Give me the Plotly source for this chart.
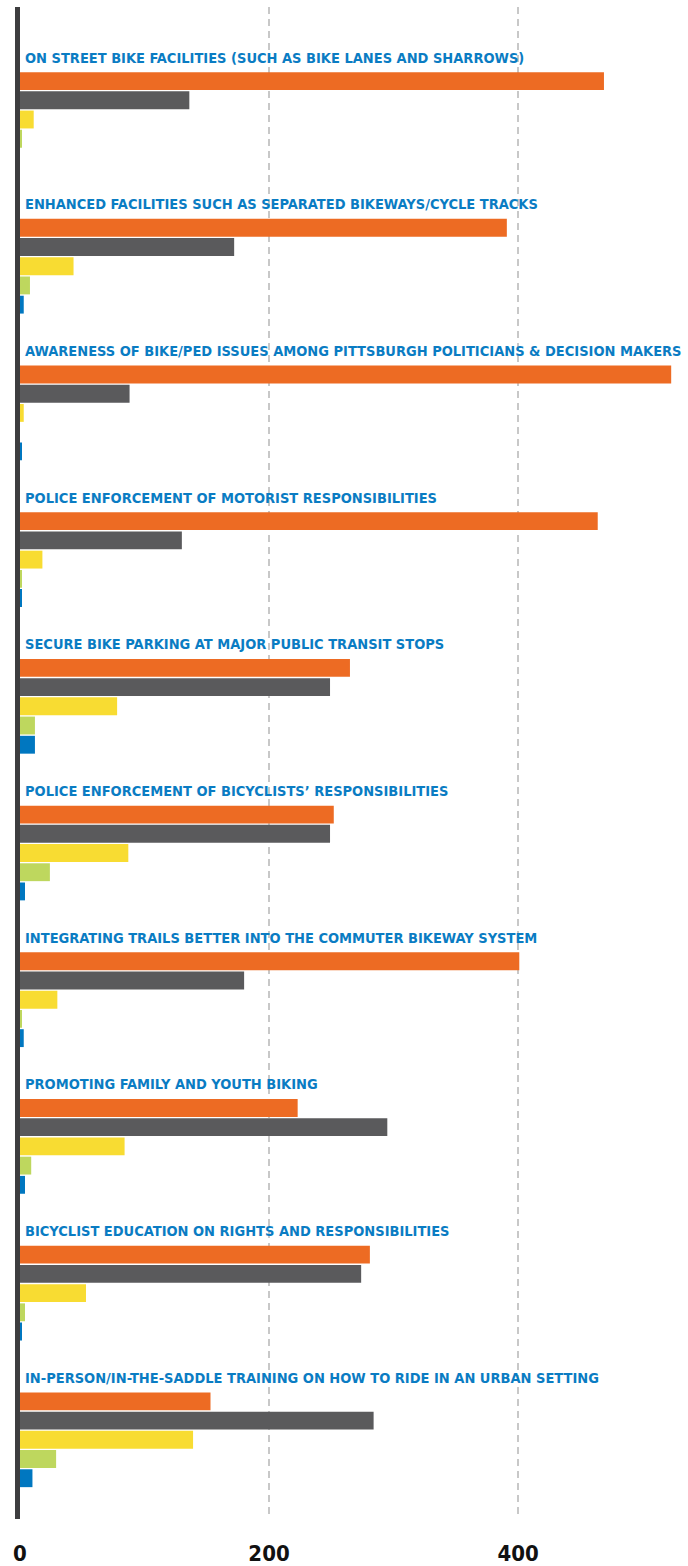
import plotly.graph_objects as go

categories = [
    "ON STREET BIKE FACILITIES (SUCH AS BIKE LANES AND SHARROWS)",
    "ENHANCED FACILITIES SUCH AS SEPARATED BIKEWAYS/CYCLE TRACKS",
    "AWARENESS OF BIKE/PED ISSUES AMONG PITTSBURGH POLITICIANS & DECISION MAKERS",
    "POLICE ENFORCEMENT OF MOTORIST RESPONSIBILITIES",
    "SECURE BIKE PARKING AT MAJOR PUBLIC TRANSIT STOPS",
    "POLICE ENFORCEMENT OF BICYCLISTS\u2019 RESPONSIBILITIES",
    "INTEGRATING TRAILS BETTER INTO THE COMMUTER BIKEWAY SYSTEM",
    "PROMOTING FAMILY AND YOUTH BIKING",
    "BICYCLIST EDUCATION ON RIGHTS AND RESPONSIBILITIES",
    "IN-PERSON/IN-THE-SADDLE TRAINING ON HOW TO RIDE IN AN URBAN SETTING",
]

series_orange = [469, 391, 523, 464, 265, 252, 401, 223, 281, 153]
series_gray = [136, 172, 88, 130, 249, 249, 180, 295, 274, 284]
series_yellow = [11, 43, 3, 18, 78, 87, 30, 84, 53, 139]
series_green = [1, 8, 0, 1, 12, 24, 1, 9, 4, 29]
series_blue = [0, 3, 1, 1, 12, 4, 3, 4, 1, 10]

series = [
    ("s1", series_orange, "#ED6B23"),
    ("s2", series_gray, "#5A5A5C"),
    ("s3", series_yellow, "#F8DC32"),
    ("s4", series_green, "#BED75E"),
    ("s5", series_blue, "#0077C0"),
]

tick_vals = [0, 200, 400]
tick_text = ["0", "200", "400"]

FONT = "DejaVu Sans Condensed, Liberation Sans Narrow, sans-serif"

fig = go.Figure()
for name, vals, col in series:
    fig.add_trace(go.Bar(
        y=categories, x=vals, orientation="h", name=name,
        marker=dict(color=col, line=dict(width=0)),
        hoverinfo="x+y",
    ))

for c in categories:
    fig.add_annotation(
        x=0, y=c, xref="x", yref="y", text=c, showarrow=False,
        xanchor="left", yanchor="middle", xshift=3, yshift=62,
        font=dict(family=FONT, size=14.5, color="#0A7CC3", weight="bold"),
    )

fig.update_layout(
    width=688, height=1566,
    margin=dict(l=20, r=0, t=7, b=40),
    paper_bgcolor="white", plot_bgcolor="white",
    barmode="group", bargap=0.345, bargroupgap=0.07,
    showlegend=False,
    xaxis=dict(
        range=[0, 536.5], tickvals=tick_vals, ticktext=tick_text,
        showgrid=True, gridcolor="#C8C8C8", gridwidth=1.5, griddash="7px,5px",
        zeroline=False, showline=False,
        ticks="outside", ticklen=15, tickcolor="rgba(0,0,0,0)",
        tickfont=dict(family=FONT, size=22, color="#111111", weight="bold"),
    ),
    yaxis=dict(
        type="category", categoryorder="array", categoryarray=categories,
        range=[9.54, -0.767], showticklabels=False, showgrid=False,
        zeroline=False, showline=True, linecolor="#3D3D3F", linewidth=5,
        ticks="",
    ),
)

fig.write_html("out.html")
